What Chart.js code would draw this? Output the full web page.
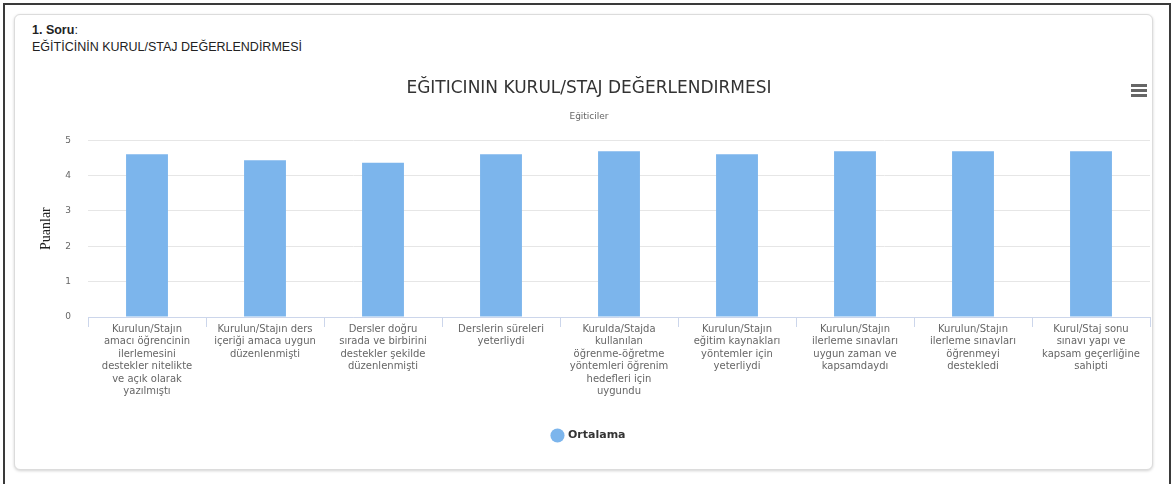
<!DOCTYPE html>
<html lang="tr">
<head>
<meta charset="UTF-8">
<title>Eğiticinin Kurul/Staj Değerlendirmesi</title>
<script src="https://cdn.jsdelivr.net/npm/chart.js"></script>
<style>
  html, body { margin: 0; padding: 0; background: #fff; }
  body { width: 1176px; height: 484px; position: relative; overflow: hidden; font-family: 'Liberation Sans', Arial, sans-serif; }
  .frame { position: absolute; left: 3px; top: 3px; width: 1168px; height: 490px; border: 2px solid #3a3a3a; border-bottom: none; box-sizing: border-box; }
  .card { position: absolute; left: 14px; top: 14px; width: 1139px; height: 456px; border: 1px solid #dcdcdc; border-radius: 6px; box-shadow: 0 1px 3px rgba(0,0,0,0.18); box-sizing: border-box; background: #fff; }
  .soru { position: absolute; left: 32px; top: 22px; font-size: 12.5px; line-height: 17px; color: #222; }
  .soru b { font-weight: bold; }
  #chart { position: absolute; left: 28px; top: 72px; }
  .menu { position: absolute; left: 1131px; top: 84px; width: 16px; }
  .menu span { display: block; height: 3px; background: #666; margin-bottom: 2px; }
</style>
</head>
<body>
<div class="frame"></div>
<div class="card"></div>
<div class="soru"><b>1. Soru</b>:<br>EĞİTİCİNİN KURUL/STAJ DEĞERLENDİRMESİ</div>
<canvas id="chart" width="1132" height="379"></canvas>
<div class="menu"><span></span><span></span><span></span></div>

<script>
// kategoriler (çok satırlı etiketler)
const kategoriler = [
  ['Kurulun/Stajın', 'amacı öğrencinin', 'ilerlemesini', 'destekler nitelikte', 've açık olarak', 'yazılmıştı'],
  ['Kurulun/Stajın ders', 'içeriği amaca uygun', 'düzenlenmişti'],
  ['Dersler doğru', 'sırada ve birbirini', 'destekler şekilde', 'düzenlenmişti'],
  ['Derslerin süreleri', 'yeterliydi'],
  ['Kurulda/Stajda', 'kullanılan', 'öğrenme-öğretme', 'yöntemleri öğrenim', 'hedefleri için', 'uygundu'],
  ['Kurulun/Stajın', 'eğitim kaynakları', 'yöntemler için', 'yeterliydi'],
  ['Kurulun/Stajın', 'ilerleme sınavları', 'uygun zaman ve', 'kapsamdaydı'],
  ['Kurulun/Stajın', 'ilerleme sınavları', 'öğrenmeyi', 'destekledi'],
  ['Kurul/Staj sonu', 'sınavı yapı ve', 'kapsam geçerliğine', 'sahipti']
];
const ortalama = [4.60, 4.43, 4.36, 4.60, 4.69, 4.60, 4.69, 4.69, 4.69];
const yTicks = [0, 1, 2, 3, 4, 5];

const ctx = document.getElementById('chart').getContext('2d');
new Chart(ctx, {
  type: 'bar',
  data: {
    labels: kategoriler,
    datasets: [{
      label: 'Ortalama',
      data: ortalama,
      backgroundColor: '#7cb5ec',
      borderWidth: 0,
      barPercentage: 0.355,
      categoryPercentage: 1
    }]
  },
  options: {
    responsive: false,
    animation: false,
    devicePixelRatio: 1,
    layout: { padding: { right: 10 } },
    plugins: {
      title: {
        display: true,
        text: 'EĞITICININ KURUL/STAJ DEĞERLENDIRMESI',
        color: '#333',
        font: { family: 'DejaVu Sans', size: 17, weight: 'normal' },
        padding: { top: 6, bottom: 4 }
      },
      subtitle: {
        display: true,
        text: 'Eğiticiler',
        color: '#666',
        font: { family: 'DejaVu Sans', size: 9 },
        padding: { top: 9, bottom: 18 }
      },
      legend: {
        position: 'bottom',
        labels: {
          usePointStyle: true,
          pointStyle: 'circle',
          boxWidth: 10,
          boxHeight: 10,
          color: '#333',
          font: { family: 'DejaVu Sans', size: 11, weight: 'bold' }
        }
      },
      tooltip: { enabled: false }
    },
    scales: {
      y: {
        min: 0,
        max: 5,
        afterBuildTicks: s => { s.ticks = yTicks.map(v => ({ value: v })); },
        afterFit: s => { s.width = 60; },
        border: { display: false },
        grid: { color: '#e6e6e6', drawTicks: false },
        ticks: { color: '#666', padding: 17, font: { family: 'DejaVu Sans', size: 9 } },
        title: {
          display: true,
          text: 'Puanlar',
          color: '#222',
          font: { family: 'Liberation Serif', size: 14 },
          padding: { top: 10, bottom: 0 }
        }
      },
      x: {
        afterFit: s => { s.height = 103; },
        border: { color: '#ccd6eb' },
        grid: { offset: true, drawOnChartArea: false, tickLength: 10, color: '#ccd6eb' },
        ticks: {
          color: '#666',
          maxRotation: 0,
          autoSkip: false,
          padding: -4,
          font: { family: 'DejaVu Sans', size: 10, lineHeight: 1.25 }
        }
      }
    }
  }
});
</script>
</body>
</html>
